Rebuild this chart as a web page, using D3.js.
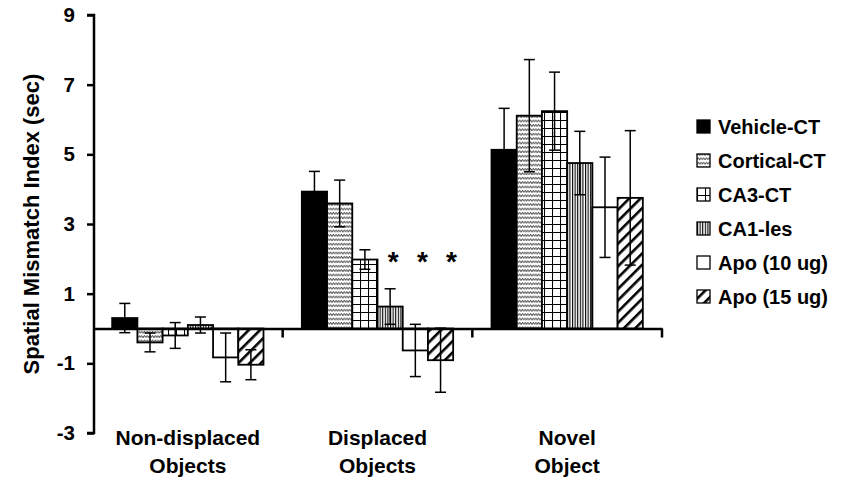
<!DOCTYPE html>
<html><head><meta charset="utf-8">
<script src="https://cdn.jsdelivr.net/npm/d3@7"></script>
<style>
html,body{margin:0;padding:0;background:#fff;}
text{font-family:"Liberation Sans",Arial,sans-serif;font-weight:bold;fill:#000;}
</style></head>
<body>
<svg id="chart" width="845" height="485"></svg>
<script>
// ---- data ----
const categories = ["Non-displaced Objects", "Displaced Objects", "Novel Object"];
const categoryLines = [["Non-displaced", "Objects"], ["Displaced", "Objects"], ["Novel", "Object"]];
const series = ["Vehicle-CT", "Cortical-CT", "CA3-CT", "CA1-les", "Apo (10 ug)", "Apo (15 ug)"];
const vehicleCT   = [0.30, 3.93, 5.13];
const corticalCT  = [-0.40, 3.59, 6.11];
const ca3CT       = [-0.20, 1.98, 6.24];
const ca1les      = [0.10, 0.63, 4.75];
const apo10       = [-0.83, -0.63, 3.48];
const apo15       = [-1.04, -0.91, 3.75];
const vehicleErr  = [0.42, 0.58, 1.19];
const corticalErr = [0.27, 0.67, 1.61];
const ca3Err      = [0.37, 0.28, 1.12];
const ca1Err      = [0.23, 0.51, 0.91];
const apo10Err    = [0.70, 0.75, 1.44];
const apo15Err    = [0.43, 0.92, 1.93];
const yTicks = [-3, -1, 1, 3, 5, 7, 9];
const significant = [{cat: "Displaced Objects", s: "CA1-les"}, {cat: "Displaced Objects", s: "Apo (10 ug)"}, {cat: "Displaced Objects", s: "Apo (15 ug)"}];
const starValue = 2.1;

const allVals = [vehicleCT, corticalCT, ca3CT, ca1les, apo10, apo15];
const allErrs = [vehicleErr, corticalErr, ca3Err, ca1Err, apo10Err, apo15Err];
const fills = ["#000", "url(#pZig)", "url(#pGrid)", "url(#pVert)", "#fff", "url(#pDiag)"];

const svg = d3.select("#chart");
const defs = svg.append("defs");
// patterns
const zig = defs.append("pattern").attr("id","pZig").attr("patternUnits","userSpaceOnUse").attr("width",5.4).attr("height",4.4);
zig.append("rect").attr("width",5.4).attr("height",4.4).attr("fill","#fff");
zig.append("path").attr("d","M0,3.3 L1.35,1.1 L2.7,3.3 L4.05,1.1 L5.4,3.3").attr("fill","none").attr("stroke","#000").attr("stroke-width",0.75);
const grid = defs.append("pattern").attr("id","pGrid").attr("patternUnits","userSpaceOnUse").attr("width",8).attr("height",8);
grid.append("rect").attr("width",8).attr("height",8).attr("fill","#fff");
grid.append("path").attr("d","M0,0.5 H8 M0.5,0 V8").attr("stroke","#000").attr("stroke-width",1.1);
const vert = defs.append("pattern").attr("id","pVert").attr("patternUnits","userSpaceOnUse").attr("width",2.6).attr("height",4);
vert.append("rect").attr("width",2.6).attr("height",4).attr("fill","#fff");
vert.append("rect").attr("width",1.1).attr("height",4).attr("fill","#000");
const diag = defs.append("pattern").attr("id","pDiag").attr("patternUnits","userSpaceOnUse").attr("width",8).attr("height",8).attr("patternTransform","rotate(45)");
diag.append("rect").attr("width",8).attr("height",8).attr("fill","#fff");
diag.append("rect").attr("width",2.6).attr("height",8).attr("fill","#000");

// scales
const x0 = d3.scaleBand().domain(categories).range([93, 662]).paddingInner(0).paddingOuter(0);
const x1 = d3.scaleBand().domain(series).range([0, x0.bandwidth()]).paddingInner(0).paddingOuter(0.76);
const y = d3.scaleLinear().domain([-3, 9]).range([433, 15]);

// bars
const data = [];
categories.forEach((c, ci) => series.forEach((s, si) => data.push({c, s, si, v: allVals[si][ci], e: allErrs[si][ci]})));

const g = svg.append("g");
g.selectAll("rect.bar").data(data).join("rect").attr("class","bar")
  .attr("x", d => x0(d.c) + x1(d.s))
  .attr("width", x1.bandwidth())
  .attr("y", d => y(Math.max(0, d.v)))
  .attr("height", d => Math.abs(y(d.v) - y(0)))
  .attr("fill", d => fills[d.si])
  .attr("stroke", "#000").attr("stroke-width", 1.8);

// error bars
const capW = 11;
const cx = d => x0(d.c)+x1(d.s)+x1.bandwidth()/2;
const eb = g.selectAll("g.err").data(data).join("g").attr("class","err")
  .attr("stroke","#000").attr("stroke-width",1.5).attr("fill","none");
eb.append("line").attr("x1", cx).attr("x2", cx)
  .attr("y1", d => y(d.v + d.e)).attr("y2", d => y(d.v - d.e));
eb.append("line").attr("x1", d => cx(d)-capW/2).attr("x2", d => cx(d)+capW/2)
  .attr("y1", d => y(d.v + d.e)).attr("y2", d => y(d.v + d.e));
eb.append("line").attr("x1", d => cx(d)-capW/2).attr("x2", d => cx(d)+capW/2)
  .attr("y1", d => y(d.v - d.e)).attr("y2", d => y(d.v - d.e));

// y axis
const yAxis = d3.axisLeft(y).tickValues(yTicks).tickSize(7).tickPadding(12).tickFormat(d => String(d));
const ya = svg.append("g").attr("transform","translate(94,0)").call(yAxis);
ya.select(".domain").attr("stroke","#000").attr("stroke-width",2.5).attr("d", `M-7,${y(9)}H0V${y(-3)}H-7`);
ya.selectAll(".tick line").attr("stroke","#000").attr("stroke-width",2.5);
ya.selectAll(".tick text").attr("font-size",20.5).attr("font-family","Liberation Sans, Arial, sans-serif").attr("font-weight","bold").attr("fill","#000");

// x axis at zero
const xAxis = d3.axisBottom(x0).tickValues([]).tickSizeOuter(0);
const xa = svg.append("g").attr("transform",`translate(0,${y(0)})`).call(xAxis);
xa.select(".domain").attr("stroke","#000").attr("stroke-width",2.5);
const bounds = categories.map(c => x0(c) + x0.bandwidth());
xa.selectAll("line.bt").data(bounds).join("line").attr("class","bt")
  .attr("x1", d => d).attr("x2", d => d).attr("y1", 0).attr("y2", 9)
  .attr("stroke","#000").attr("stroke-width",2.5);

// category labels
categories.forEach((c, i) => {
  const t = svg.append("text").attr("x", x0(c) + x0.bandwidth()/2).attr("y", 445)
    .attr("text-anchor","middle").attr("font-size",21);
  categoryLines[i].forEach((ln, k) => t.append("tspan").attr("x", x0(c) + x0.bandwidth()/2).attr("dy", k ? 28 : 0).text(ln));
});

// y title
svg.append("text").attr("transform","translate(39,224) rotate(-90)").attr("text-anchor","middle")
  .attr("font-size",22).text("Spatial Mismatch Index (sec)");

// significance stars
svg.selectAll("text.star").data(significant).join("text").attr("class","star")
  .attr("x", (d, i) => x0(d.cat) + x1(d.s) + x1.bandwidth()/2 + 3 + i*4)
  .attr("y", y(starValue) + 16).attr("text-anchor","middle").attr("font-size",28).attr("font-weight","normal").text("*");

// legend
const lg = svg.append("g").attr("transform","translate(697,127)");
const li = lg.selectAll("g").data(series).join("g").attr("transform",(d,i)=>`translate(0,${i*34})`);
li.append("rect").attr("x",0).attr("y",-7).attr("width",13).attr("height",13)
  .attr("fill",(d,i)=>fills[i]).attr("stroke","#000").attr("stroke-width",1.3);
li.append("text").attr("x",21).attr("y",7).attr("font-size",20).text(d=>d);
</script>
</body></html>
